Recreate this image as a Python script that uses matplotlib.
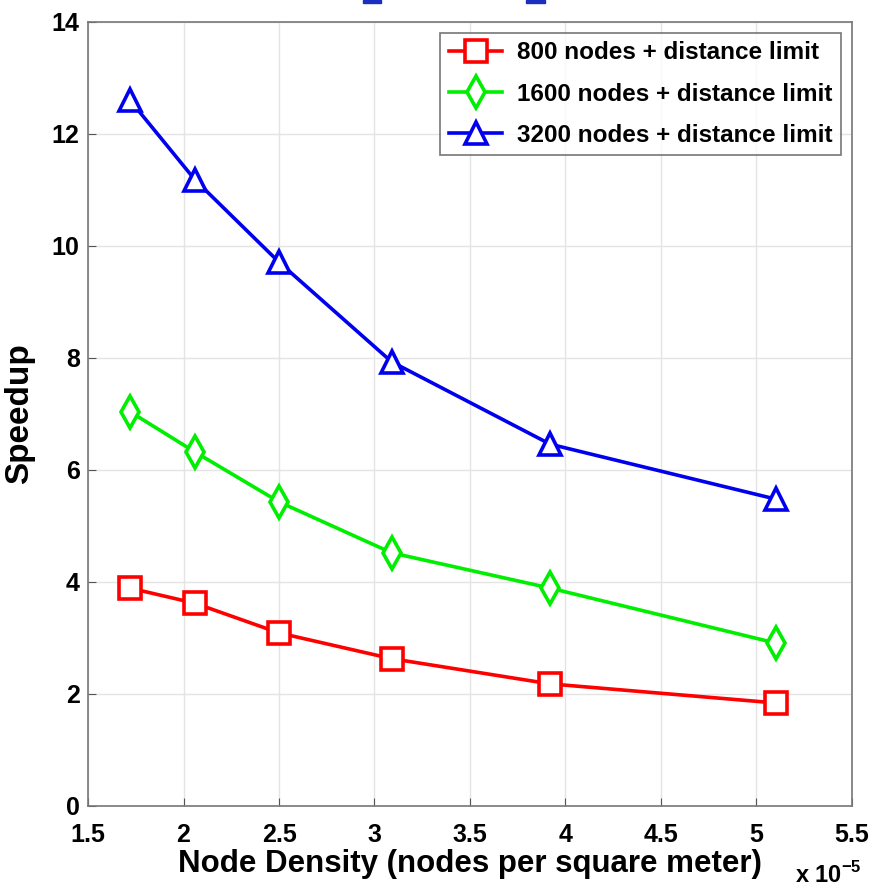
import matplotlib
matplotlib.use("Agg")
import matplotlib.pyplot as plt
from matplotlib.patches import Rectangle

# node density (x 1e-5 nodes per square meter)
density = [1.72, 2.06, 2.50, 3.09, 3.92, 5.10]

speedup_800 = [3.89, 3.62, 3.09, 2.63, 2.18, 1.84]
speedup_1600 = [7.04, 6.32, 5.43, 4.52, 3.89, 2.91]
speedup_3200 = [12.60, 11.18, 9.71, 7.93, 6.46, 5.48]

labels = ["800 nodes + distance limit",
          "1600 nodes + distance limit",
          "3200 nodes + distance limit"]

xticks = [1.5, 2, 2.5, 3, 3.5, 4, 4.5, 5, 5.5]
yticks = [0, 2, 4, 6, 8, 10, 12, 14]

plt.rcParams['font.family'] = ['Liberation Sans', 'DejaVu Sans']

fig = plt.figure(figsize=(8.76, 8.9), dpi=100)
ax = fig.add_axes([0.1005, 0.0944, 0.872, 0.881])

style = dict(lw=2.6, ms=16, mew=2.6, mfc='white')
ax.plot(density, speedup_800, color='#ff0000', marker='s', label=labels[0], **style)
ax.plot(density, speedup_1600, color='#00ee00', marker='d', label=labels[1], **style)
ax.plot(density, speedup_3200, color='#0000ee', marker='^', label=labels[2], **style)

ax.set_xlim(1.5, 5.5)
ax.set_ylim(0, 14)
ax.set_xticks(xticks)
ax.set_xticklabels([f"{t:g}" for t in xticks])
ax.set_yticks(yticks)
ax.grid(True, color='#e4e4e4', lw=1)
ax.set_axisbelow(True)
ax.tick_params(direction='in', length=6, color='#555555', labelsize=18)
ax.tick_params(axis='x', pad=12)
ax.tick_params(axis='y', pad=6)
for lab in ax.get_xticklabels() + ax.get_yticklabels():
    lab.set_fontweight('bold')
for sp in ax.spines.values():
    sp.set_color('#777777')
    sp.set_linewidth(1.2)

ax.set_xlabel("Node Density (nodes per square meter)", fontsize=22.5,
              fontweight='bold', labelpad=2)
ax.set_ylabel("Speedup", fontsize=24, fontweight='bold', labelpad=12)
fig.text(0.907, 0.008, r"x 10$^{\mathregular{-5}}$", fontsize=17, fontweight='bold')

leg = ax.legend(loc='upper right', prop={'size': 17.5, 'weight': 'bold'},
                frameon=True, fancybox=False, edgecolor='#555555',
                borderpad=0.35, labelspacing=0.75, handlelength=2.2,
                handletextpad=0.6, borderaxespad=0.45)
leg.get_frame().set_linewidth(1.2)

# clipped blue marks at the very top of the page
fig.patches.append(Rectangle((0.414, 0.9965), 0.021, 0.0035, transform=fig.transFigure,
                             color='#1a2fbf'))
fig.patches.append(Rectangle((0.601, 0.9965), 0.021, 0.0035, transform=fig.transFigure,
                             color='#1a2fbf'))

fig.savefig("out.png", dpi=100)
